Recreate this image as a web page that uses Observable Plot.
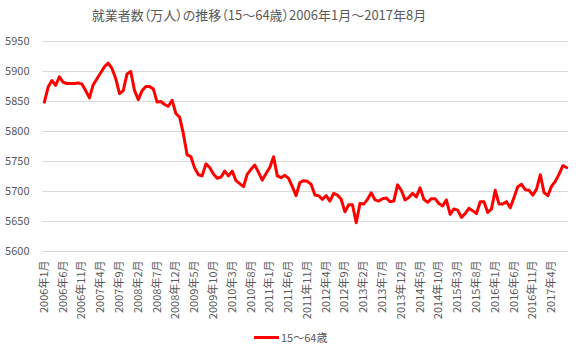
<!DOCTYPE html>
<html>
<head>
<meta charset="utf-8">
<script src="https://cdn.jsdelivr.net/npm/d3@7"></script>
<script src="https://cdn.jsdelivr.net/npm/@observablehq/plot@0.6"></script>
<style>
  html, body { margin: 0; padding: 0; background: #fff; }
  #wrap { position: relative; width: 580px; height: 356px; font-family: "Noto Sans CJK JP", "Noto Sans", sans-serif; color: #595959; }
  #title { position: absolute; left: 0; top: 7px; width: 518px; text-align: center; font-size: 13px; line-height: 16px; font-feature-settings: "palt"; }
  #chart { position: absolute; left: 0; top: 0; }
  #legend { position: absolute; left: 254px; top: 330px; font-size: 11px; line-height: 14px; display: flex; align-items: center; }
  #legend .sw { width: 25px; height: 3px; background: #ff0000; margin-right: 2px; }
</style>
</head>
<body>
<div id="wrap">
  <div id="chart"></div>
  <div id="title">就業者数（万人）の推移（15～64歳）2006年1月～2017年8月</div>
  <div id="legend"><span class="sw"></span><span>15～64歳</span></div>
</div>
<script>
const seriesName = "15～64歳";
const startYear = 2006, startMonth = 1;
const values = [
  5849, 5874, 5885, 5877, 5891, 5882, 5880, 5880, 5880, 5881, 5879, 5868,
  5856, 5878, 5888, 5898, 5908, 5914, 5905, 5888, 5863, 5868, 5896, 5900,
  5868, 5853, 5868, 5875, 5875, 5871, 5849, 5850, 5845, 5842, 5852, 5830,
  5824, 5796, 5761, 5758, 5739, 5728, 5726, 5746, 5740, 5729, 5722, 5724,
  5734, 5726, 5734, 5718, 5713, 5708, 5729, 5737, 5744, 5732, 5719, 5730,
  5740, 5758, 5726, 5723, 5727, 5722, 5708, 5693, 5715, 5718, 5717, 5712,
  5694, 5693, 5687, 5693, 5684, 5697, 5694, 5687, 5666, 5678, 5678, 5648,
  5680, 5679, 5687, 5698, 5686, 5684, 5688, 5689, 5683, 5684, 5711, 5702,
  5686, 5690, 5697, 5691, 5706, 5687, 5682, 5688, 5688, 5680, 5676, 5686,
  5662, 5671, 5669, 5657, 5663, 5672, 5668, 5663, 5683, 5683, 5665, 5671,
  5702, 5679, 5679, 5683, 5673, 5690, 5708, 5712, 5703, 5702, 5694, 5704,
  5728, 5698, 5693, 5709, 5717, 5729, 5743, 5740
];
const yTicks = [5600, 5650, 5700, 5750, 5800, 5850, 5900, 5950];
const labelStep = 5;

const labels = values.map((_, i) => {
  const m = startMonth - 1 + i;
  return `${startYear + Math.floor(m / 12)}年${(m % 12) + 1}月`;
});
const tickLabels = labels.filter((_, i) => i % labelStep === 0);
const data = values.map((v, i) => ({label: labels[i], value: v}));

const chart = Plot.plot({
  width: 580,
  height: 330,
  marginTop: 41,
  marginBottom: 79,
  marginLeft: 42,
  marginRight: 12,
  style: {fontFamily: '"Noto Sans CJK JP", "Noto Sans", sans-serif', fontSize: "11px", color: "#595959", background: "transparent"},
  x: {type: "point", domain: labels, padding: 0.5},
  y: {domain: [5600, 5950]},
  marks: [
    Plot.gridY(yTicks, {stroke: "#d9d9d9", strokeOpacity: 1, strokeWidth: 1}),
    Plot.axisY({ticks: yTicks, tickFormat: "d", tickSize: 0, tickPadding: 13, label: null}),
    Plot.axisX({ticks: tickLabels, tickRotate: -90, tickSize: 0, tickPadding: 9, label: null}),
    Plot.line(data, {x: "label", y: "value", stroke: "#ff0000", strokeWidth: 3, strokeLinejoin: "round", strokeLinecap: "round"})
  ]
});
document.getElementById("chart").appendChild(chart);
</script>
</body>
</html>
